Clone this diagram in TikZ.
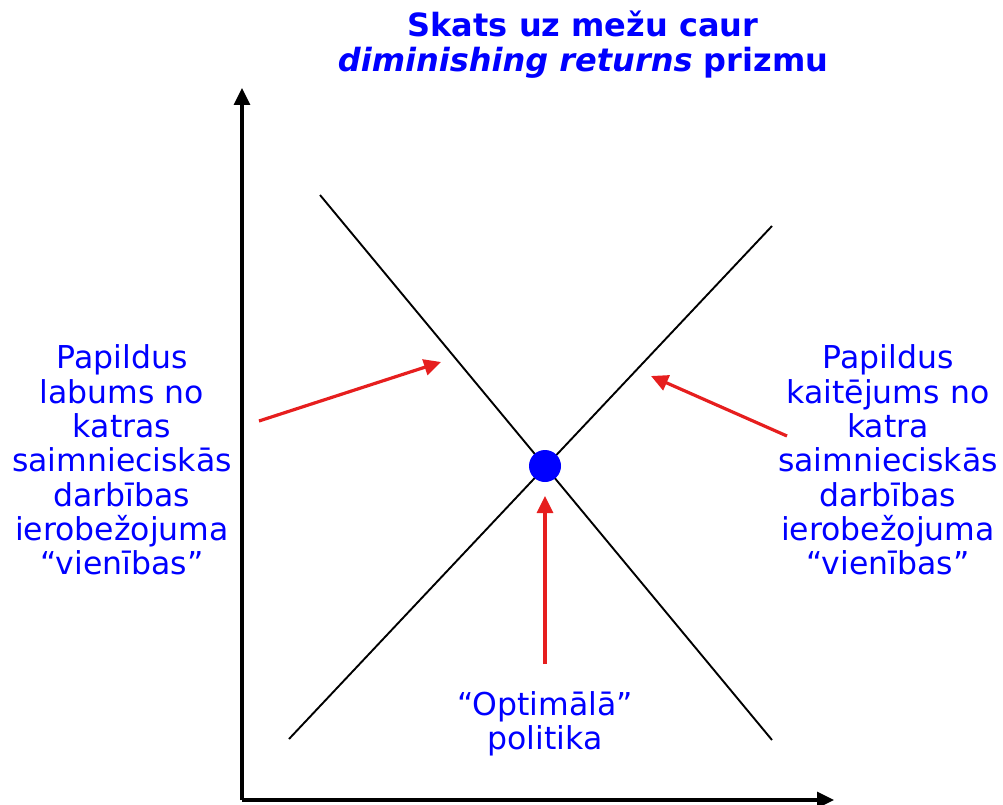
\documentclass[tikz,border=0pt]{standalone}
\usepackage{fontspec}
\setmainfont{DejaVu Sans}
\usepackage{xcolor}
\usetikzlibrary{arrows.meta,positioning,calc}

\definecolor{ptrred}{RGB}{230,30,30}

\begin{document}
\begin{tikzpicture}[
  x=1pt,y=-1pt,
  lbl/.style={text=blue,font=\fontsize{31.5}{34.3}\selectfont,align=center,inner sep=0pt},
  ttl/.style={text=blue,font=\fontsize{32}{35}\selectfont\bfseries,align=center,inner sep=0pt},
  axis/.style={line width=3.2pt,-{Triangle[length=17pt,width=16pt]}},
  curve/.style={line width=1.9pt},
  ptr/.style={draw=ptrred,line width=3.2pt,-{Triangle[length=17pt,width=16pt]}},
]
\useasboundingbox (0,0) rectangle (1003,805);
% title
\node[ttl] (title) at (583,45) {Skats uz mežu caur\\\textit{diminishing returns} prizmu};
% axes
\coordinate (o) at (242,800);
\coordinate (ytop) at (242,88);
\coordinate (xend) at (834,800);
\draw[axis] (o) -- (ytop);
\draw[axis] (o) -- (xend);
% the two lines and the optimum
\coordinate (b1) at (320,195);
\coordinate (b2) at (772,740);
\coordinate (k1) at (289,739);
\coordinate (k2) at (772,226);
\draw[curve] (b1) -- (b2);
\draw[curve] (k1) -- (k2);
\node[circle,fill=blue,minimum size=32pt,inner sep=0pt] (opt) at (545,466) {};
% labels
\node[lbl] (benefit) at (122,460) {Papildus\\labums no\\katras\\saimnieciskās\\darbības\\ierobežojuma\\“vienības”};
\node[lbl] (damage) at (888,460) {Papildus\\kaitējums no\\katra\\saimnieciskās\\darbības\\ierobežojuma\\“vienības”};
\node[lbl] (policy) at (545,724) {“Optimālā”\\politika};
% pointers
\coordinate (p1) at (259,421);
\coordinate (q1) at (441,362);
\coordinate (p2) at (787,436);
\coordinate (q2) at (651,376);
\coordinate (p3) at (545,664);
\coordinate (q3) at (545,496);
\draw[ptr] (p1) -- (q1);
\draw[ptr] (p2) -- (q2);
\draw[ptr] (p3) -- (q3);
\end{tikzpicture}
\end{document}
